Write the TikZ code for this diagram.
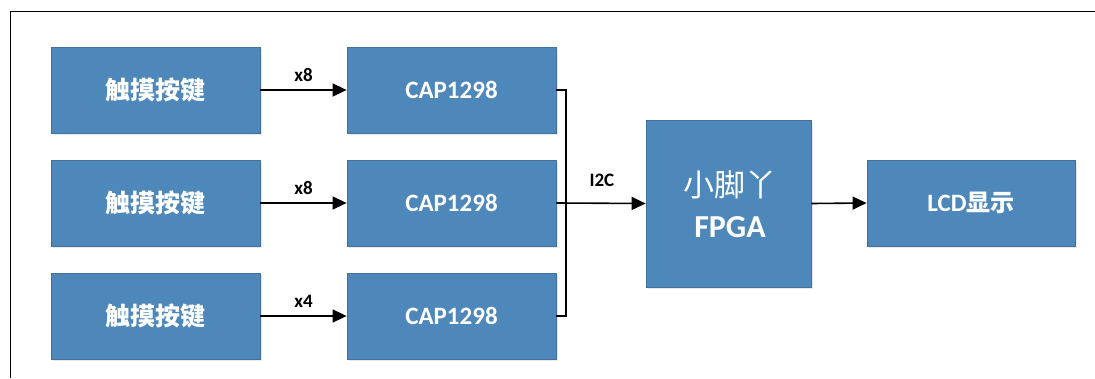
\documentclass[tikz,border=0pt]{standalone}
\usepackage{fontspec}
\setmainfont{Carlito}
\newfontfamily\cjk{Noto Sans CJK SC}
\usetikzlibrary{arrows.meta,shadows}
\definecolor{boxfill}{HTML}{4E87BA}
\definecolor{boxline}{HTML}{41719C}
\tikzset{
  blk/.style={draw=boxline, line width=0.8pt, fill=boxfill, inner sep=0pt, text=white,
    drop shadow={opacity=0.18, shadow xshift=2pt, shadow yshift=-2pt}},
  keybox/.style={blk, minimum width=209pt, minimum height=86pt,
    font=\fontsize{25}{28}\selectfont\cjk\bfseries},
  capbox/.style={blk, minimum width=209pt, minimum height=86pt,
    font=\fontsize{25}{28}\selectfont\bfseries},
  conn/.style={line width=1.6pt, line join=miter},
  arr/.style={conn, -{Triangle[length=14pt,width=13pt]}},
  lbl/.style={font=\fontsize{19}{21}\selectfont\bfseries, inner sep=0pt},
}
\begin{document}
\begin{tikzpicture}[x=1pt,y=-1pt]
\useasboundingbox (0,0) rectangle (1095,378);
\draw[line width=1pt] (10,378) -- (10,11) -- (1095,11);
% left column
\node[keybox] (k1) at (155.5,90) {触摸按键};
\node[keybox] (k2) at (155.5,203) {触摸按键};
\node[keybox] (k3) at (155.5,316) {触摸按键};
% CAP column
\node[capbox] (c1) at (451.5,90) {CAP1298};
\node[capbox] (c2) at (451.5,203) {CAP1298};
\node[capbox] (c3) at (451.5,316) {CAP1298};
% FPGA
\node[blk, minimum width=165pt, minimum height=167pt] (f) at (728.5,203.5) {};
\node[font=\fontsize{31}{34}\selectfont\cjk, text=white, inner sep=0pt] (f1) at (730,185) {小脚丫};
\node[font=\fontsize{32}{34}\selectfont\bfseries, text=white, inner sep=0pt] (f2) at (730,227) {FPGA};
% LCD
\node[capbox, minimum width=208pt, font=\fontsize{25}{28}\selectfont\bfseries] (l) at (971,203) {LCD{\cjk\fontsize{24}{28}\selectfont 显示}};
% arrows
\draw[arr] (k1.east) -- (c1.west) node[lbl, midway, above=8pt] (x1) {x8};
\draw[arr] (k2.east) -- (c2.west) node[lbl, midway, above=8pt] (x2) {x8};
\draw[arr] (k3.east) -- (c3.west) node[lbl, midway, above=8pt] (x3) {x4};
\coordinate (bus) at (566,203);
\draw[conn] (c1.east) -- (c1.east -| bus) -- (c3.east -| bus) -- (c3.east);
\draw[arr] (c2.east) -- (f.west) node[lbl, pos=0.51, above=16pt] (i2c) {I2C};
\draw[arr] (f.east) -- (l.west);
\end{tikzpicture}
\end{document}
